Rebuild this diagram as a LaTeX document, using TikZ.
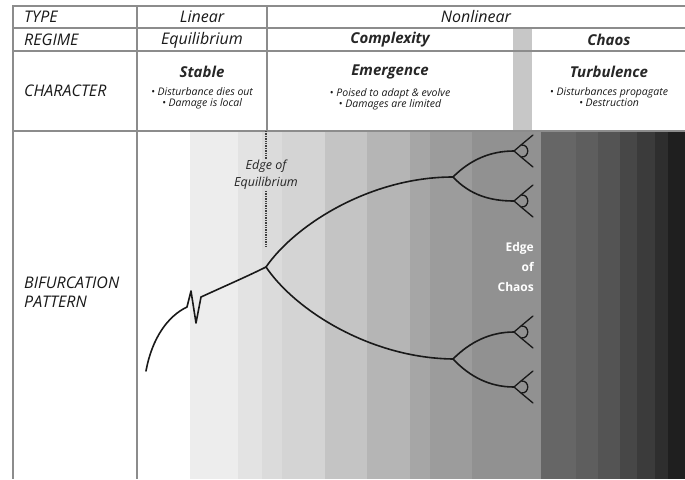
\documentclass[tikz,border=0pt]{standalone}
\usepackage{fontspec}
\setmainfont{Open Sans}
\usetikzlibrary{positioning}

\begin{document}
\begin{tikzpicture}[x=1pt,y=-1pt,grid/.style={draw=black!45, line width=1.3pt},head/.style={font=\fontsize{16}{18}\selectfont\itshape, inner sep=0pt, text=black!90},rowlabel/.style={head, anchor=west, align=left},title/.style={font=\fontsize{15}{17}\selectfont\itshape\bfseries, inner sep=0pt, text=black!85},note/.style={font=\fontsize{10.5}{11}\selectfont\itshape, align=center, inner sep=0pt, text=black!90},branch/.style={line width=1.6pt, line cap=round, line join=round, black!90},edgelabel/.style={font=\fontsize{12.5}{17}\selectfont\itshape, align=center, inner sep=1pt, text=black!85},twig/.pic={\draw[branch, line width=1.3pt] (0,0) -- (7,-6) .. controls (16,-7) and (16,7) .. (7,6) -- cycle; \draw[branch, line width=1.3pt] (7,-6) -- (19,-16) (7,6) -- (19,16);}]
\useasboundingbox (0,0) rectangle (685,479);
% shading of the pattern area
\foreach \xa/\xb/\g in {190/238/93, 238/262/89, 262/282/86, 282/325/83, 325/367/77, 367/410/71, 410/430/65, 430/472/61, 472/541/57, 541/576/40, 576/598/37, 598/620/33, 620/637/28, 637/655/23, 655/668/18, 668/685/12}
  \fill[white!\g!black] (\xa,131) rectangle (\xb,479);
\fill[black!22] (513,28) rectangle (532,131);
% table
\draw[grid] (685,6) -- (13,6) -- (13,479);
\draw[grid] (13,28) -- (685,28) (13,51) -- (685,51) (13,131) -- (685,131);
\draw[grid] (137,6) -- (137,479) (267,6) -- (267,131);
\node[rowlabel] (type) at (24,17) {TYPE};
\node[rowlabel] (regime) at (24,40) {REGIME};
\node[rowlabel] (character) at (24,91) {CHARACTER};
\node[rowlabel, font=\fontsize{16}{19}\selectfont\itshape] (pattern) at (24,292) {BIFURCATION\\PATTERN};
\node[head] (linear) at (202,17) {Linear};
\node[head] (nonlinear) at (476,17) {Nonlinear};
\node[head] (equilibrium) at (202,40) {Equilibrium};
\node[title] (complexity) at (390,40) {Complexity};
\node[title] (chaos) at (609,40) {Chaos};
\node[title] (stable) at (202,72) {Stable};
\node[title] (emergence) at (390,72) {Emergence};
\node[title] (turbulence) at (609,72) {Turbulence};
\node[note, below=9pt of stable] (stablenote) {• Disturbance dies out\\• Damage is local};
\node[note, below=9pt of emergence] (emergencenote) {• Poised to adapt \& evolve\\• Damages are limited};
\node[note, below=9pt of turbulence] (turbulencenote) {• Disturbances propagate\\• Destruction};
% bifurcation pattern
\node[edgelabel] (eoe) at (266,175) {Edge of\\Equilibrium};
\node[anchor=east, align=right, inner sep=0pt, text=white, font=\fontsize{12}{20}\selectfont\bfseries] (eoc) at (534,267) {Edge\\of\\Chaos};
\coordinate (start) at (146,371);
\coordinate (fork) at (266,267);
\coordinate (dotend) at (266,247);
\coordinate (up) at (453,177);
\coordinate (down) at (453,359);
\coordinate (upa) at (514,151);
\coordinate (upb) at (514,201);
\coordinate (downa) at (514,332);
\coordinate (downb) at (514,387);
\draw[densely dotted, line width=1.4pt, black!75] (266,131) -- (eoe.north) (eoe.south) -- (dotend);
\draw[branch] (start) .. controls (152,338) and (168,316) .. (187,307) -- (191,291) -- (196,323) -- (201,297) .. controls (225,286) and (248,276) .. (fork);
\draw[branch] (fork) .. controls (295,225) and (370,177) .. (up);
\draw[branch] (fork) .. controls (295,310) and (370,358) .. (down);
\draw[branch] (up) .. controls (470,160) and (490,151) .. (upa);
\draw[branch] (up) .. controls (470,195) and (490,201) .. (upb);
\draw[branch] (down) .. controls (470,342) and (490,332) .. (downa);
\draw[branch] (down) .. controls (470,377) and (490,387) .. (downb);
\foreach \p in {upa, upb, downa, downb}
  \pic at (\p) {twig};
\end{tikzpicture}
\end{document}
